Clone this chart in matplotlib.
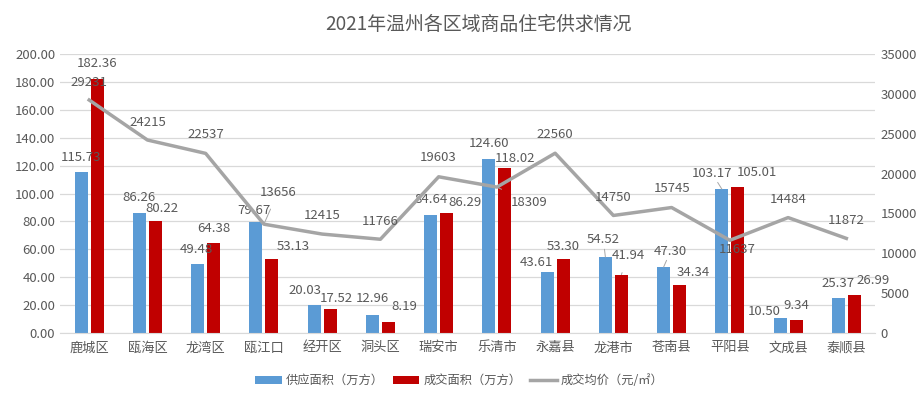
import numpy as np
import matplotlib.pyplot as plt

plt.rcParams['font.family'] = ['Noto Sans CJK SC', 'DejaVu Sans']

districts = ["鹿城区", "瓯海区", "龙湾区", "瓯江口", "经开区", "洞头区", "瑞安市",
             "乐清市", "永嘉县", "龙港市", "苍南县", "平阳县", "文成县", "泰顺县"]
supply = [115.73, 86.26, 49.48, 79.67, 20.03, 12.96, 84.64,
          124.60, 43.61, 54.52, 47.30, 103.17, 10.50, 25.37]
deal = [182.36, 80.22, 64.38, 53.13, 17.52, 8.19, 86.29,
        118.02, 53.30, 41.94, 34.34, 105.01, 9.34, 26.99]
price = [29231, 24215, 22537, 13656, 12415, 11766, 19603,
         18309, 22560, 14750, 15745, 11637, 14484, 11872]

txt = '#595959'
blue = '#5B9BD5'
red = '#C00000'
gray = '#A5A5A5'

fig = plt.figure(figsize=(9.24, 3.96), dpi=100)
ax = fig.add_axes([0.065, 0.159, 0.8825, 0.7045])
ax2 = ax.twinx()

x = np.arange(len(districts))
w = 0.223
off = 0.1375
ax.bar(x - off, supply, w, color=blue, label='供应面积（万方）', zorder=2)
ax.bar(x + off, deal, w, color=red, label='成交面积（万方）', zorder=2)
ax2.plot(x, price, color=gray, lw=2.5, label='成交均价（元/㎡）', zorder=3)

ax.set_xlim(-0.5, len(districts) - 0.5)
ax.set_ylim(0, 200)
ax.set_yticks(np.arange(0, 201, 20))
ax.set_yticklabels([f'{v:.2f}' for v in np.arange(0, 201, 20)])
ax2.set_ylim(0, 35000)
ax2.set_yticks(np.arange(0, 35001, 5000))

ax.set_xticks(x)
ax.set_xticklabels(districts)
ax.grid(axis='y', color='#D9D9D9', lw=0.9, zorder=0)
ax.set_axisbelow(True)
for a in (ax, ax2):
    for s in a.spines.values():
        s.set_visible(False)
    a.tick_params(length=0, labelsize=9.5, colors=txt)
ax.spines['bottom'].set_visible(True)
ax.spines['bottom'].set_color('#D9D9D9')
ax.tick_params(axis='x', pad=6, labelsize=9.5)

# label offsets in pixels (dx, dy up) from bar top / line point, placed like the original
sup_off = [(0, 14), (0, 15), (-1, 15), (-2, 11), (-9, 15), (0, 16), (0, 15),
           (0, 16), (-11, 10), (-2, 17), (7, 16), (-10, 16), (-16, 7), (0, 14)]
deal_off = [(0, 15), (7, 13), (0, 15), (21, 12), (6, 10), (16, 15), (18, 10),
            (10, 10), (0, 12), (7, 19), (14, 13), (19, 14), (0, 15), (19, 15)]
price_off = [(0, 18), (0, 18), (0, 19), (14, 32), (0, 19), (0, 18), (0, 19),
             (32, -15), (0, 19), (0, 18), (0, 19), (7, -9), (0, 18), (0, 18)]
leader_sup = {9, 10, 11}
leader_deal = {9}
leader_price = {3, 7}

lead = dict(arrowstyle='-', color='#A6A6A6', lw=0.7, shrinkA=6, shrinkB=0)
for i in range(len(x)):
    ax.annotate(f'{supply[i]:.2f}', (x[i] - off, supply[i]), xytext=sup_off[i],
                textcoords='offset pixels', ha='center', va='center', fontsize=9.5, color=txt,
                arrowprops=lead if i in leader_sup else None)
    ax.annotate(f'{deal[i]:.2f}', (x[i] + off, deal[i]), xytext=deal_off[i],
                textcoords='offset pixels', ha='center', va='center', fontsize=9.5, color=txt,
                arrowprops=lead if i in leader_deal else None)
    ax2.annotate(f'{price[i]}', (x[i], price[i]), xytext=price_off[i],
                 textcoords='offset pixels', ha='center', va='center', fontsize=9.5, color=txt,
                 arrowprops=lead if i in leader_price else None)

fig.suptitle('2021年温州各区域商品住宅供求情况', x=0.518, y=0.965, fontsize=13.6, color=txt)

h1, l1 = ax.get_legend_handles_labels()
h2, l2 = ax2.get_legend_handles_labels()
fig.legend(h1 + h2, l1 + l2, loc='lower center', bbox_to_anchor=(0.497, -0.005), ncol=3,
           frameon=False, fontsize=8.8, labelcolor=txt, handlelength=2.2,
           handleheight=0.6, columnspacing=0.7, handletextpad=0.3)

fig.savefig('out.png', dpi=100)
